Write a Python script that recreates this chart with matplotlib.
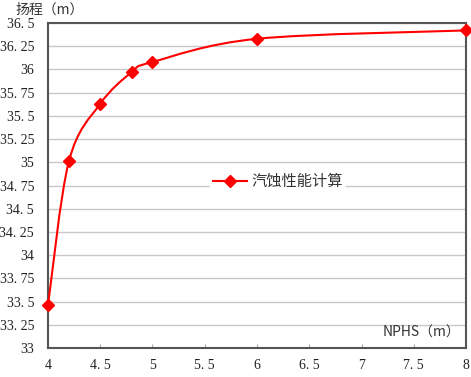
import matplotlib
matplotlib.use("Agg")
import matplotlib.pyplot as plt
import numpy as np
from matplotlib.path import Path
from matplotlib.patches import PathPatch
from matplotlib.lines import Line2D

plt.rcParams['font.family'] = ['Noto Sans CJK SC', 'DejaVu Sans']

# 数据
npsh = [4.0, 4.2, 4.5, 4.8, 5.0, 6.0, 8.0]
head = [33.46, 35.01, 35.63, 35.97, 36.08, 36.33, 36.42]
xticks = [4, 4.5, 5, 5.5, 6, 6.5, 7, 7.5, 8]
yticks = [33, 33.25, 33.5, 33.75, 34, 34.25, 34.5, 34.75, 35, 35.25, 35.5, 35.75, 36, 36.25, 36.5]
series_name = "汽蚀性能计算"

red = "#ff0000"

fig = plt.figure(figsize=(4.71, 3.77), dpi=100)
ax = fig.add_axes([0.1019, 0.0769, 0.8875, 0.8621])

# 平滑曲线（类似 Excel 的平滑线）
xs = np.array(npsh)
ys = np.array(head)
verts = [(xs[0], ys[0])]
codes = [Path.MOVETO]
for i in range(len(xs) - 1):
    p0 = np.array([xs[max(i - 1, 0)], ys[max(i - 1, 0)]])
    p1 = np.array([xs[i], ys[i]])
    p2 = np.array([xs[i + 1], ys[i + 1]])
    p3 = np.array([xs[min(i + 2, len(xs) - 1)], ys[min(i + 2, len(xs) - 1)]])
    c1 = p1 + (p2 - p0) / 6
    c2 = p2 - (p3 - p1) / 6
    verts += [tuple(c1), tuple(c2), tuple(p2)]
    codes += [Path.CURVE4] * 3
ax.add_patch(PathPatch(Path(verts, codes), facecolor="none", edgecolor=red, lw=1.5,
                       zorder=3, clip_on=False))
ax.plot(npsh, head, linestyle="none", marker="D", color=red, markersize=6, zorder=4,
        clip_on=False)

ax.set_xlim(4, 8)
ax.set_ylim(33, 36.5)
ax.set_xticks(xticks)
ax.set_xticklabels([f"{t:g}".replace(".", ". ") for t in xticks], family="Liberation Serif",
                   fontsize=10, color="#222222")
ax.set_yticks(yticks)
ax.set_yticklabels([f"{t:g}".replace(".", ". ") for t in yticks], family="Liberation Serif",
                   fontsize=10, color="#222222")
ax.tick_params(axis="x", direction="in", length=3, color="#aaaaaa", pad=8)
ax.tick_params(axis="y", length=0, pad=10)
ax.grid(axis="y", color="#c8c8c8", lw=1)
ax.set_axisbelow(True)
for s in ax.spines.values():
    s.set_color("#555555")
    s.set_linewidth(1.5)

fig.text(16 / 471, 1 - 10 / 377, "扬程（m）", fontsize=10, color="#333333", va="center")
ax.text(0.986, 0.046, "NPHS（m）", transform=ax.transAxes, ha="right", va="center",
        fontsize=10, color="#333333")

handle = Line2D([], [], color=red, lw=1.5, marker="D", markersize=6)
leg = ax.legend([handle], [series_name], loc="center", bbox_to_anchor=(0.55, 0.512),
                frameon=True, fontsize=11, handlelength=2.2, handletextpad=0.3,
                borderpad=0.2)
leg.get_frame().set_edgecolor("none")
leg.get_frame().set_facecolor("white")
leg.get_frame().set_alpha(1)
for t in leg.get_texts():
    t.set_color("#333333")

fig.savefig("out.png", dpi=100)
